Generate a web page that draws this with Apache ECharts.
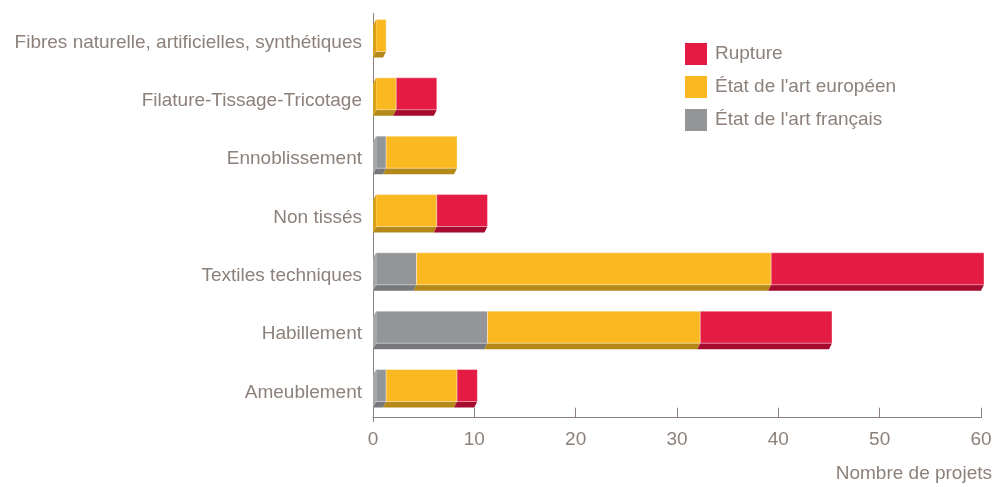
<!DOCTYPE html>
<html><head><meta charset="utf-8">
<script src="https://cdn.jsdelivr.net/npm/echarts@6/dist/echarts.min.js"></script>
<style>html,body{margin:0;padding:0;background:#fff}#c{width:1005px;height:487px}</style>
</head><body><div id="c"></div>
<script>
const categories = ["Fibres naturelle, artificielles, synthétiques","Filature-Tissage-Tricotage","Ennoblissement","Non tissés","Textiles techniques","Habillement","Ameublement"];
const seriesNames = ["État de l'art français","État de l'art européen","Rupture"];
const francais = [0,0,1,0,4,11,1];
const europeen = [1,2,7,6,35,21,7];
const rupture = [0,4,0,5,21,13,2];
const xTicks = {min:0,max:60,interval:10};

const values = [francais, europeen, rupture];
const front = ['#939598','#fbb921','#e41c43'];
const bottomC = ['#76787b','#b5881a','#a50a2f'];
const sideC = ['#a5a7aa','#d9a01a','#c0123a'];
const txt = '#8c817b';
const ff = 'Liberation Sans, Arial, sans-serif';

const starts = [[],[],[]];
categories.forEach((c,i)=>{let s=0;for(let k=0;k<3;k++){starts[k][i]=s;s+=values[k][i];}});

function makeSeries(k){
  return {
    type:'custom', name:seriesNames[k],
    encode:{x:[0,2],y:1},
    data: categories.map((c,i)=>[values[k][i], i, starts[k][i]]),
    itemStyle:{color:front[k]},
    renderItem:function(params, api){
      const v = api.value(0), idx = api.value(1), s = api.value(2);
      if(!v) return;
      const p0 = api.coord([s, idx]), p1 = api.coord([s+v, idx]);
      const cy = p0[1], x0 = p0[0], x1 = p1[0];
      const d = 3, top = cy-23, fb = cy+9, bb = cy+15;
      const children = [
        {type:'polygon', shape:{points:[[x0+d,fb],[x1+d,fb],[x1,bb],[x0,bb]]}, style:{fill:bottomC[k]}},
        {type:'rect', shape:{x:x0+d, y:top, width:x1-x0, height:fb-top}, style:{fill:front[k], stroke:'rgba(255,255,255,0.35)', lineWidth:1}}
      ];
      if(s===0){
        children.push({type:'polygon', shape:{points:[[x0,top+6],[x0+d,top],[x0+d,fb],[x0,bb]]}, style:{fill:sideC[k]}});
      }
      return {type:'group', children};
    }
  };
}

const chart = echarts.init(document.getElementById('c'));
chart.setOption({
  animation:false,
  grid:{left:373, right:24, top:13.3, bottom:65.3, containLabel:false},
  legend:{
    orient:'vertical', left:685, top:43, padding:0, itemWidth:22, itemHeight:22, itemGap:11,
    icon:'rect',
    data:["Rupture","État de l'art européen","État de l'art français"],
    textStyle:{color:txt, fontSize:19, fontFamily:ff, padding:[0,0,0,3]}
  },
  title:{text:'Nombre de projets', right:13, top:464, padding:0, textStyle:{color:txt, fontSize:19, fontWeight:'normal', fontFamily:ff}},
  xAxis:{
    type:'value', min:xTicks.min, max:xTicks.max, interval:xTicks.interval, offset:-4,
    axisLine:{show:true, lineStyle:{color:txt, width:1}},
    axisTick:{show:true, inside:true, length:10, lineStyle:{color:txt}},
    splitLine:{show:false},
    axisLabel:{color:txt, fontSize:19, margin:13, fontFamily:ff}
  },
  yAxis:{
    type:'category', inverse:true, data:categories,
    axisLine:{show:true, lineStyle:{color:txt, width:1}},
    axisTick:{show:false},
    axisLabel:{color:txt, fontSize:19, margin:11, fontFamily:ff}
  },
  series:[makeSeries(0), makeSeries(1), makeSeries(2)]
});
</script></body></html>
